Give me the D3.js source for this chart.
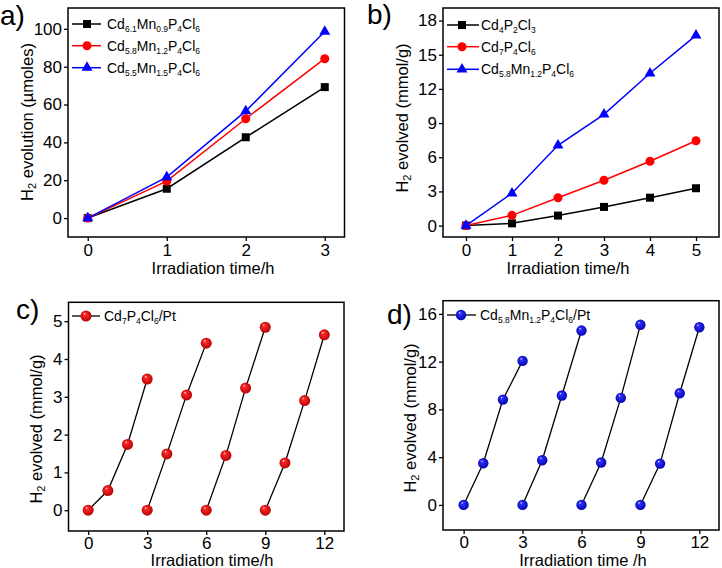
<!DOCTYPE html>
<html>
<head>
<meta charset="utf-8">
<script src="https://cdn.jsdelivr.net/npm/d3@7"></script>
<style>
  html, body { margin: 0; padding: 0; background: #fff; }
  svg { display: block; font-family: "Liberation Sans", Arial, sans-serif; }
</style>
</head>
<body>
<svg id="chart" width="722" height="568"></svg>
<script>
// ---------------- DATA ----------------
// Panel a
const timeA = [0, 1, 2, 3];
const aCd61 = [0, 15.5, 42.7, 69.2];
const aCd58 = [0, 19.5, 52.5, 84.2];
const aCd55 = [0, 21.6, 56.5, 98.6];
const ticksAx = [0, 1, 2, 3];
const ticksAy = [0, 20, 40, 60, 80, 100];

// Panel b
const timeB = [0, 1, 2, 3, 4, 5];
const bCd4P2 = [0, 0.2, 0.88, 1.64, 2.45, 3.28];
const bCd7P4 = [0, 0.9, 2.45, 3.98, 5.65, 7.45];
const bCdMn = [0, 2.84, 7.05, 9.77, 13.37, 16.7];
const ticksBx = [0, 1, 2, 3, 4, 5];
const ticksBy = [0, 3, 6, 9, 12, 15, 18];

// Panels c and d: four cycles
const cycleTimes = [[0, 1, 2, 3], [3, 4, 5, 6], [6, 7, 8, 9], [9, 10, 11, 12]];
const cValues = [[0, 0.52, 1.74, 3.47], [0, 1.49, 3.05, 4.42], [0, 1.45, 3.23, 4.84], [0, 1.25, 2.9, 4.64]];
const dValues = [[0, 3.49, 8.82, 12.06], [0, 3.74, 9.16, 14.6], [0, 3.55, 8.96, 15.08], [0, 3.46, 9.35, 14.88]];
const ticksCx = [0, 3, 6, 9, 12];
const ticksCy = [0, 1, 2, 3, 4, 5];
const ticksDx = [0, 3, 6, 9, 12];
const ticksDy = [0, 4, 8, 12, 16];

// Legend labels: arrays of [text, isSubscript]
const legendA = [
  [["Cd", 0], ["6.1", 1], ["Mn", 0], ["0.9", 1], ["P", 0], ["4", 1], ["Cl", 0], ["6", 1]],
  [["Cd", 0], ["5.8", 1], ["Mn", 0], ["1.2", 1], ["P", 0], ["4", 1], ["Cl", 0], ["6", 1]],
  [["Cd", 0], ["5.5", 1], ["Mn", 0], ["1.5", 1], ["P", 0], ["4", 1], ["Cl", 0], ["6", 1]]
];
const legendB = [
  [["Cd", 0], ["4", 1], ["P", 0], ["2", 1], ["Cl", 0], ["3", 1]],
  [["Cd", 0], ["7", 1], ["P", 0], ["4", 1], ["Cl", 0], ["6", 1]],
  [["Cd", 0], ["5.8", 1], ["Mn", 0], ["1.2", 1], ["P", 0], ["4", 1], ["Cl", 0], ["6", 1]]
];
const legendC = [["Cd", 0], ["7", 1], ["P", 0], ["4", 1], ["Cl", 0], ["6", 1], ["/Pt", 0]];
const legendD = [["Cd", 0], ["5.8", 1], ["Mn", 0], ["1.2", 1], ["P", 0], ["4", 1], ["Cl", 0], ["6", 1], ["/Pt", 0]];

// ---------------- DRAW ----------------
const svg = d3.select("#chart");
const defs = svg.append("defs");

function sphereGrad(id, mid, edge) {
  const g = defs.append("radialGradient").attr("id", id)
    .attr("cx", "50%").attr("cy", "50%").attr("r", "55%")
    .attr("fx", "35%").attr("fy", "28%");
  g.append("stop").attr("offset", "0%").attr("stop-color", "#ffffff");
  g.append("stop").attr("offset", "20%").attr("stop-color", mid);
  g.append("stop").attr("offset", "100%").attr("stop-color", edge);
}
sphereGrad("redSphere", "#ff2a2a", "#b00000");
sphereGrad("blueSphere", "#3030ff", "#0000a8");

const LEG_MAIN = 14, LEG_SUB = 8.5;

function richText(sel, parts, mainSize, subSize) {
  parts.forEach(([t, sub]) => {
    const ts = sel.append("tspan").text(t);
    if (sub) ts.attr("font-size", subSize).attr("baseline-shift", "-30%");
    else ts.attr("font-size", mainSize);
  });
}

function makePanel(p) {
  const x = d3.scaleLinear().domain(p.xDomain).range(p.xRange);
  const y = d3.scaleLinear().domain(p.yDomain).range(p.yRange);
  const g = svg.append("g");

  // frame
  g.append("rect")
    .attr("x", p.xRange[0]).attr("y", p.yRange[1])
    .attr("width", p.xRange[1] - p.xRange[0])
    .attr("height", p.yRange[0] - p.yRange[1])
    .attr("fill", "none").attr("stroke", "#000").attr("stroke-width", 1.5);

  const xAxis = d3.axisBottom(x).tickValues(p.xTicks).tickSize(4).tickPadding(p.xPad || 3).tickFormat(d3.format("d"));
  const yAxis = d3.axisLeft(y).tickValues(p.yTicks).tickSize(4).tickPadding(2).tickFormat(d3.format("d"));
  const gx = g.append("g").attr("transform", `translate(0,${p.yRange[0]})`).call(xAxis);
  const gy = g.append("g").attr("transform", `translate(${p.xRange[0]},0)`).call(yAxis);
  [gx, gy].forEach(a => {
    a.select(".domain").remove();
    a.selectAll("line").attr("stroke", "#000").attr("stroke-width", 1.3);
    a.selectAll("text").attr("font-size", 17).attr("fill", "#000")
      .attr("font-family", "Liberation Sans, Arial, sans-serif");
  });

  // titles
  g.append("text").attr("x", p.xTitlePos[0]).attr("y", p.xTitlePos[1])
    .attr("text-anchor", "middle").attr("font-size", 16.5).text(p.xTitle);
  const yt = g.append("text")
    .attr("transform", `translate(${p.yTitlePos[0]},${p.yTitlePos[1]}) rotate(-90)`)
    .attr("text-anchor", "middle");
  richText(yt, [["H", 0], ["2", 1], [p.yTitleRest, 0]], 16.5, 11);

  // panel label
  svg.append("text").attr("x", p.labelPos[0]).attr("y", p.labelPos[1])
    .attr("font-size", 28).text(p.label);
  return { x, y, g };
}

const line = (x, y) => d3.line().x(d => x(d[0])).y(d => y(d[1]));

function drawMarker(g, shape, cx, cy, color) {
  if (shape === "square") {
    g.append("rect").attr("x", cx - 4).attr("y", cy - 4).attr("width", 8).attr("height", 8).attr("fill", color);
  } else if (shape === "circle") {
    g.append("circle").attr("cx", cx).attr("cy", cy).attr("r", 4.5).attr("fill", color);
  } else {
    g.append("path").attr("transform", `translate(${cx},${cy})`)
      .attr("d", d3.symbol().type(d3.symbolTriangle).size(52)()).attr("fill", color);
  }
}

// ---- Panel a ----
(function () {
  const P = makePanel({
    xDomain: [-0.25, 3.25], xRange: [68, 344.5],
    yDomain: [-10, 111], yRange: [237, 8],
    xTicks: ticksAx, yTicks: ticksAy,
    xTitle: "Irradiation time/h", xTitlePos: [213, 274],
    yTitleRest: " evolution (\u00b5moles)", yTitlePos: [33, 122],
    label: "a)", labelPos: [0, 25]
  });
  const series = [[aCd61, "#000000", "square"], [aCd58, "#ff0000", "circle"], [aCd55, "#0000ff", "triangle"]];
  series.forEach(([vals, color, shape], i) => {
    const pts = timeA.map((t, j) => [t, vals[j]]);
    P.g.append("path").datum(pts).attr("d", line(P.x, P.y)).attr("fill", "none")
      .attr("stroke", color).attr("stroke-width", 1.5);
    pts.forEach(d => drawMarker(P.g, shape, P.x(d[0]), P.y(d[1]), color));
    // legend
    const ly = [24, 45.7, 67.7][i];
    P.g.append("line").attr("x1", 72).attr("x2", 101).attr("y1", ly).attr("y2", ly)
      .attr("stroke", color).attr("stroke-width", 1.5);
    drawMarker(P.g, shape, 87, ly, color);
    const t = P.g.append("text").attr("x", 107).attr("y", ly + 5);
    richText(t, legendA[i], LEG_MAIN, LEG_SUB);
  });
})();

// ---- Panel b ----
(function () {
  const P = makePanel({
    xDomain: [-0.5, 5.5], xRange: [443, 719],
    yDomain: [-1, 19.1], yRange: [237, 8],
    xTicks: ticksBx, yTicks: ticksBy,
    xTitle: "Irradiation time/h", xTitlePos: [568, 274],
    yTitleRest: " evolved (mmol/g)", yTitlePos: [408, 118],
    label: "b)", labelPos: [367, 24]
  });
  const series = [[bCd4P2, "#000000", "square"], [bCd7P4, "#ff0000", "circle"], [bCdMn, "#0000ff", "triangle"]];
  series.forEach(([vals, color, shape], i) => {
    const pts = timeB.map((t, j) => [t, vals[j]]);
    P.g.append("path").datum(pts).attr("d", line(P.x, P.y)).attr("fill", "none")
      .attr("stroke", color).attr("stroke-width", 1.5);
    pts.forEach(d => drawMarker(P.g, shape, P.x(d[0]), P.y(d[1]), color));
    const ly = [25, 46.7, 69.3][i];
    P.g.append("line").attr("x1", 447).attr("x2", 479).attr("y1", ly).attr("y2", ly)
      .attr("stroke", color).attr("stroke-width", 1.5);
    drawMarker(P.g, shape, 462, ly, color);
    const t = P.g.append("text").attr("x", 481).attr("y", ly + 5);
    richText(t, legendB[i], LEG_MAIN, LEG_SUB);
  });
})();

// ---- Panels c and d ----
function cyclePanel(cfg, values, gradId, r, legendParts, leg) {
  const P = makePanel(cfg);
  cycleTimes.forEach((times, k) => {
    const pts = times.map((t, j) => [t, values[k][j]]);
    P.g.append("path").datum(pts).attr("d", line(P.x, P.y)).attr("fill", "none")
      .attr("stroke", "#000").attr("stroke-width", 1.3);
  });
  cycleTimes.forEach((times, k) => {
    times.forEach((t, j) => {
      P.g.append("circle").attr("cx", P.x(t)).attr("cy", P.y(values[k][j]))
        .attr("r", r).attr("fill", `url(#${gradId})`);
    });
  });
  P.g.append("line").attr("x1", leg.x1).attr("x2", leg.x2).attr("y1", leg.y).attr("y2", leg.y)
    .attr("stroke", "#000").attr("stroke-width", 1.3);
  P.g.append("circle").attr("cx", leg.cx).attr("cy", leg.y).attr("r", r).attr("fill", `url(#${gradId})`);
  const t = P.g.append("text").attr("x", leg.tx).attr("y", leg.y + 5);
  richText(t, legendParts, LEG_MAIN, LEG_SUB);
}

cyclePanel({
  xDomain: [-1, 13], xRange: [68.5, 344],
  yDomain: [-0.55, 5.5], yRange: [531, 302.3],
  xTicks: ticksCx, yTicks: ticksCy, xPad: 1.5,
  xTitle: "Irradiation time/h", xTitlePos: [212, 566],
  yTitleRest: " evolved (mmol/g)", yTitlePos: [42, 429],
  label: "c)", labelPos: [16, 319]
}, cValues, "redSphere", 5.5, legendC, { x1: 72, x2: 100, cx: 86, tx: 104, y: 316 });

cyclePanel({
  xDomain: [-1.05, 13], xRange: [443, 719],
  yDomain: [-2.1, 17.1], yRange: [530, 300.7],
  xTicks: ticksDx, yTicks: ticksDy, xPad: 1.5,
  xTitle: "Irradiation time /h", xTitlePos: [583, 566],
  yTitleRest: " evolved (mmol/g)", yTitlePos: [416, 418],
  label: "d)", labelPos: [387, 324]
}, dValues, "blueSphere", 5.2, legendD, { x1: 447, x2: 476, cx: 461, tx: 480, y: 315 });
</script>
</body>
</html>
